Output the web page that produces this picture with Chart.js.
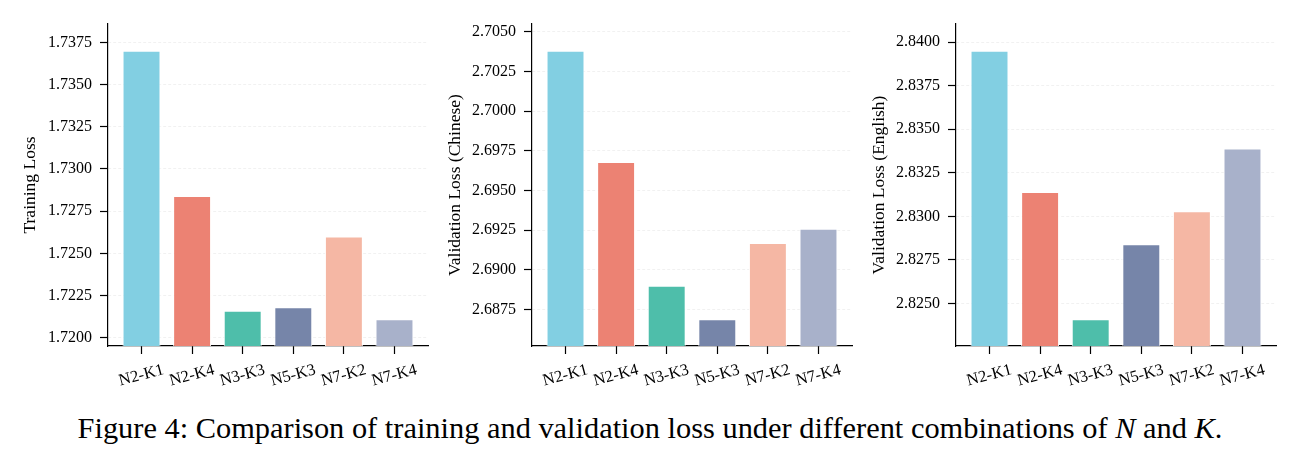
<!DOCTYPE html>
<html>
<head>
<meta charset="utf-8">
<script src="https://cdn.jsdelivr.net/npm/chart.js@4.4.1/dist/chart.umd.min.js"></script>
<style>
  body { margin: 0; background: #fff; width: 1300px; height: 464px; position: relative; overflow: hidden; font-family: "Liberation Serif", "Times New Roman", serif; }
  canvas { position: absolute; top: 0; }
  #caption { position: absolute; left: 0; width: 1300px; top: 411px; text-align: center; font-size: 30.4px; color: #000; white-space: nowrap; }
  #caption i { font-style: italic; }
</style>
</head>
<body>
<canvas id="c1" width="430" height="400" style="left:0px"></canvas>
<canvas id="c2" width="430" height="400" style="left:430px"></canvas>
<canvas id="c3" width="440" height="400" style="left:860px"></canvas>
<div id="caption">Figure 4: Comparison of training and validation loss under different combinations of <i>N</i> and <i>K</i>.</div>
<script>
const categories = ['N2-K1', 'N2-K4', 'N3-K3', 'N5-K3', 'N7-K2', 'N7-K4'];
const trainingLoss = [1.7370, 1.7284, 1.7216, 1.7218, 1.7260, 1.7211];
const valLossChinese = [2.7038, 2.6968, 2.6890, 2.6869, 2.6917, 2.6926];
const valLossEnglish = [2.8395, 2.8314, 2.8241, 2.8284, 2.8303, 2.8339];
const trainingTicks = [1.7200, 1.7225, 1.7250, 1.7275, 1.7300, 1.7325, 1.7350, 1.7375];
const chineseTicks = [2.6875, 2.6900, 2.6925, 2.6950, 2.6975, 2.7000, 2.7025, 2.7050];
const englishTicks = [2.8250, 2.8275, 2.8300, 2.8325, 2.8350, 2.8375, 2.8400];
const barColors = ['#82cfe2', '#ec8273', '#4ebeaa', '#7685a9', '#f5b7a4', '#a8b1ca'];

const FONT = '"Liberation Serif", "Times New Roman", serif';

function makeChart(id, values, yTicks, title, axisWidth, rightPad, titlePad) {
    const lo = Math.min(...values), hi = Math.max(...values);
    const span = hi - lo;
    return new Chart(document.getElementById(id), {
        type: 'bar',
        data: {
            datasets: [{
                data: values.map((v, i) => ({ x: i, y: v })),
                backgroundColor: barColors,
                borderColor: '#ffffff',
                borderWidth: 1,
                categoryPercentage: 1,
                barPercentage: 0.75
            }]
        },
        options: {
            responsive: false,
            animation: false,
            layout: { padding: { top: 24, right: rightPad, left: 0, bottom: 0 } },
            plugins: { legend: { display: false }, tooltip: { enabled: false } },
            scales: {
                x: {
                    type: 'linear',
                    offset: false,
                    min: -0.6625,
                    max: 5.6625,
                    afterBuildTicks: s => { s.ticks = categories.map((_, i) => ({ value: i })); },
                    afterFit: s => { s.height = 54; },
                    grid: { offset: false, drawOnChartArea: false, drawTicks: true, tickLength: 8, tickColor: '#000', tickWidth: 1.2 },
                    border: { color: '#000', width: 1.2 },
                    ticks: {
                        callback: v => categories[v],
                        minRotation: 15, maxRotation: 15,
                        labelOffset: 22, padding: 6,
                        color: '#000',
                        font: { family: FONT, size: 16.5 }
                    }
                },
                y: {
                    min: lo - 0.1 * span,
                    max: hi + 0.1 * span,
                    afterBuildTicks: s => { s.ticks = yTicks.map(v => ({ value: v })); },
                    afterFit: s => { s.width = axisWidth; },
                    grid: { color: 'rgba(0,0,0,0.07)', lineWidth: 0.8, tickLength: 8, tickColor: '#000', tickWidth: 1.2 },
                    border: { color: '#000', width: 1.2, dash: [3, 2] },
                    ticks: {
                        callback: v => v.toFixed(4),
                        padding: 8,
                        color: '#000',
                        font: { family: FONT, size: 16 }
                    },
                    title: {
                        display: true,
                        text: title,
                        color: '#000',
                        padding: { top: titlePad, bottom: 0 },
                        font: { family: FONT, size: 17.5 }
                    }
                }
            }
        }
    });
}

makeChart('c1', trainingLoss, trainingTicks, 'Training Loss', 108, 2, 20);
makeChart('c2', valLossChinese, chineseTicks, 'Validation Loss (Chinese)', 102, 8, 15);
makeChart('c3', valLossEnglish, englishTicks, 'Validation Loss (English)', 96, 24, 9);
</script>
</body>
</html>
